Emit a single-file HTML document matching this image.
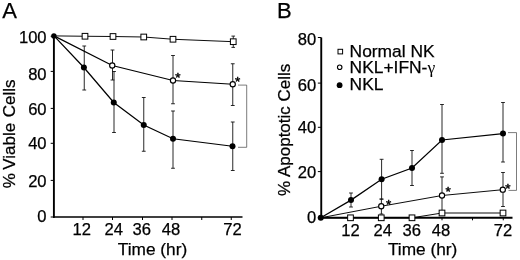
<!DOCTYPE html>
<html><head><meta charset="utf-8"><title>Figure</title>
<style>
html,body{margin:0;padding:0;background:#fff}
svg{display:block}
text{font-family:"Liberation Sans",sans-serif;fill:#000;stroke:#000;stroke-width:0.25}
.t{font-size:16.6px}
.p{font-size:22px}
.ax{stroke:#000;stroke-width:1.9;fill:none}
.tk{stroke:#000;stroke-width:1;fill:none}
.ln{stroke:#000;stroke-width:1.25;fill:none}
.ln2{stroke:#000;stroke-width:0.95;fill:none}
.ln3{stroke:#000;stroke-width:0.95;fill:none}
.eb{stroke:#111;stroke-width:0.9;fill:none}
.br{stroke:#444;stroke-width:0.7;fill:none}
.fc{fill:#000;stroke:none}
.oc{fill:#fff;stroke:#000;stroke-width:1.15}
.sq{fill:#fff;stroke:#000;stroke-width:1}
.as{font-size:13.5px;stroke-width:0.45}
</style></head><body>
<svg width="520" height="260" viewBox="0 0 520 260">
<rect width="520" height="260" fill="#fff"/>
<text class="p" x="2.3" y="17.6" text-anchor="start">A</text>
<path class="ax" d="M53.9 36V217.8"/>
<path class="ax" style="stroke-width:1.6" d="M53 217H242.5"/>
<path class="tk" d="M50.7 36.25H53.9"/>
<text class="t" x="46.6" y="43.2" text-anchor="end">100</text>
<path class="tk" d="M50.7 71.4H53.9"/>
<text class="t" x="46.6" y="79.9" text-anchor="end">80</text>
<path class="tk" d="M50.7 108.4H53.9"/>
<text class="t" x="46.6" y="115.4" text-anchor="end">60</text>
<path class="tk" d="M50.7 143.3H53.9"/>
<text class="t" x="46.6" y="149.2" text-anchor="end">40</text>
<path class="tk" d="M50.7 180.4H53.9"/>
<text class="t" x="46.6" y="187" text-anchor="end">20</text>
<path class="tk" d="M50.7 217H53.9"/>
<text class="t" x="46.6" y="222.2" text-anchor="end">0</text>
<path class="tk" d="M83 217V220"/>
<path class="tk" d="M112.5 217V220"/>
<path class="tk" d="M142.5 217V220"/>
<path class="tk" d="M172 217V220"/>
<path class="tk" d="M201.75 217V220"/>
<path class="tk" d="M231.25 217V220"/>
<text class="t" x="81.7" y="234.9" text-anchor="middle">12</text>
<text class="t" x="113.7" y="234.9" text-anchor="middle">24</text>
<text class="t" x="141.8" y="234.9" text-anchor="middle">36</text>
<text class="t" x="171" y="234.9" text-anchor="middle">48</text>
<text class="t" x="232.5" y="234.9" text-anchor="middle">72</text>
<text class="t" x="152.5" y="254.5" text-anchor="middle" style="font-size:17.3px">Time (hr)</text>
<text class="t" x="15.4" y="188.3" text-anchor="start" style="font-size:17px" transform="rotate(-90 15.4 188.3)">%<tspan dx="-1.3"> Viable</tspan><tspan dx="0.9"> Cells</tspan></text>
<path class="eb" d="M84.25 46V90M82.35 46H86.15M82.35 90H86.15"/>
<path class="eb" d="M114 71.5V132.5M112.1 71.5H115.9M112.1 132.5H115.9"/>
<path class="eb" d="M143.75 97.5V151.25M141.85 97.5H145.65M141.85 151.25H145.65"/>
<path class="eb" d="M173 111V168.25M171.1 111H174.9M171.1 168.25H174.9"/>
<path class="eb" d="M232.75 122V170.5M230.85 122H234.65M230.85 170.5H234.65"/>
<path class="eb" d="M112.5 50V80M110.6 50H114.4M110.6 80H114.4"/>
<path class="eb" d="M173 55.5V103.75M171.1 55.5H174.9M171.1 103.75H174.9"/>
<path class="eb" d="M232.75 63.75V105.5M230.85 63.75H234.65M230.85 105.5H234.65"/>
<path class="eb" d="M233.25 36.1V47.4M231.45 36.1H235.05M231.45 47.4H235.05"/>
<polyline class="ln2" points="54,35.9 85,36.25 113,36.5 143.75,37 173,39.25 233.25,41.7"/>
<polyline class="ln" points="54,35.9 112.25,65.5 173,80.5 232.75,84.25"/>
<polyline class="ln" points="54,35.9 83.9,67.5 113.75,102.5 143.75,125 173,138.75 232.5,146.25"/>
<rect class="sq" x="82.15" y="33.4" width="5.7" height="5.7"/>
<rect class="sq" x="110.15" y="33.65" width="5.7" height="5.7"/>
<rect class="sq" x="140.9" y="34.15" width="5.7" height="5.7"/>
<rect class="sq" x="170.15" y="36.4" width="5.7" height="5.7"/>
<rect class="sq" x="230.4" y="38.85" width="5.7" height="5.7"/>
<circle class="oc" cx="112.25" cy="65.5" r="2.6"/>
<circle class="oc" cx="173" cy="80.5" r="2.6"/>
<circle class="oc" cx="232.75" cy="84.25" r="2.6"/>
<circle class="fc" cx="53.9" cy="35.9" r="2.7"/>
<circle class="fc" cx="83.9" cy="67.5" r="3"/>
<circle class="fc" cx="113.75" cy="102.5" r="3"/>
<circle class="fc" cx="143.75" cy="125" r="3"/>
<circle class="fc" cx="173" cy="138.75" r="3"/>
<circle class="fc" cx="232.5" cy="146.25" r="3"/>
<path class="br" d="M238 85.1H246.7V147.3H238"/>
<text class="as" x="177.9" y="81.8" text-anchor="middle">*</text>
<text class="as" x="237.6" y="85.7" text-anchor="middle">*</text>
<text class="p" x="277" y="18.2" text-anchor="start">B</text>
<path class="ax" d="M321.25 37.5V217.8H512.5"/>
<path class="tk" d="M317.85 37.5H321.25"/>
<text class="t" x="316.2" y="44.7" text-anchor="end">80</text>
<path class="tk" d="M317.85 83.1H321.25"/>
<text class="t" x="316.2" y="91.2" text-anchor="end">60</text>
<path class="tk" d="M317.85 127.3H321.25"/>
<text class="t" x="316.2" y="133.4" text-anchor="end">40</text>
<path class="tk" d="M317.85 171.6H321.25"/>
<text class="t" x="316.2" y="177.5" text-anchor="end">20</text>
<path class="tk" d="M317.85 217.8H321.25"/>
<text class="t" x="316.2" y="223.2" text-anchor="end">0</text>
<path class="tk" d="M351 217.8V220.3"/>
<path class="tk" d="M381.5 217.8V220.3"/>
<path class="tk" d="M412 217.8V220.3"/>
<path class="tk" d="M442 217.8V220.3"/>
<path class="tk" d="M472.5 217.8V220.3"/>
<path class="tk" d="M503.25 217.8V220.3"/>
<text class="t" x="350.5" y="235.8" text-anchor="middle">12</text>
<text class="t" x="382.7" y="235.8" text-anchor="middle">24</text>
<text class="t" x="411.7" y="235.8" text-anchor="middle">36</text>
<text class="t" x="441" y="235.8" text-anchor="middle">48</text>
<text class="t" x="503" y="235.8" text-anchor="middle">72</text>
<text class="t" x="422.6" y="254.5" text-anchor="middle" style="font-size:17.3px">Time (hr)</text>
<text class="t" x="289.7" y="129.8" text-anchor="middle" style="font-size:17px" transform="rotate(-90 289.7 129.8)">% Apoptotic Cells</text>
<rect class="sq" x="338" y="49.3" width="4.6" height="4.6"/>
<circle class="oc" cx="339.7" cy="67.2" r="2.25" style="stroke-width:1.1"/>
<circle class="fc" cx="339.6" cy="85.2" r="2.9"/>
<text class="t" x="349.6" y="56.9" text-anchor="start" style="font-size:17.4px">Normal NK</text>
<text class="t" x="349.6" y="73.15" text-anchor="start" style="font-size:17.4px">NKL+IFN-<tspan style="font-family:'Liberation Serif',serif;font-size:17.5px;stroke-width:0">γ</tspan></text>
<text class="t" x="349.6" y="90" text-anchor="start" style="font-size:17.4px">NKL</text>
<path class="eb" d="M351 193V207M349.1 193H352.9M349.1 207H352.9"/>
<path class="eb" d="M381.6 159.3V199.2M379.7 159.3H383.5M379.7 199.2H383.5"/>
<path class="eb" d="M412 150.5V185.5M410.1 150.5H413.9M410.1 185.5H413.9"/>
<path class="eb" d="M442 104.5V173.3M440.1 104.5H443.9M440.1 173.3H443.9"/>
<path class="eb" d="M503 102.5V162M501.1 102.5H504.9M501.1 162H504.9"/>
<path class="eb" d="M381.4 199V214M379.5 199H383.3M379.5 214H383.3"/>
<path class="eb" d="M442 176.9V213M440.1 176.9H443.9M440.1 213H443.9"/>
<path class="eb" d="M503 172.5V206.5M501.1 172.5H504.9M501.1 206.5H504.9"/>
<polyline class="ln2" points="320.75,217.8 350.5,217.8 381.25,217.8 412,217.8 442,213 503,213"/>
<polyline class="ln3" points="320.75,217.8 381.25,206.25 442,195.5 502.8,189.7"/>
<polyline class="ln" points="320.75,217.8 351,200.1 381.6,179.25 412,168 442,140 503,133.6"/>
<rect class="sq" x="347.65" y="214.95" width="5.7" height="5.7"/>
<rect class="sq" x="378.4" y="214.95" width="5.7" height="5.7"/>
<rect class="sq" x="409.15" y="214.95" width="5.7" height="5.7"/>
<rect class="sq" x="439.15" y="210.15" width="5.7" height="5.7"/>
<rect class="sq" x="500.15" y="210.15" width="5.7" height="5.7"/>
<circle class="oc" cx="381.25" cy="206.25" r="2.6"/>
<circle class="oc" cx="442" cy="195.5" r="2.6"/>
<circle class="oc" cx="502.8" cy="189.7" r="2.6"/>
<circle class="fc" cx="320.75" cy="217.8" r="3"/>
<circle class="fc" cx="351" cy="200.1" r="3"/>
<circle class="fc" cx="381.6" cy="179.25" r="3"/>
<circle class="fc" cx="412" cy="168" r="3"/>
<circle class="fc" cx="442" cy="140" r="3"/>
<circle class="fc" cx="503" cy="133.6" r="3"/>
<path class="br" d="M508 132.6H516.5V190.4H508.5"/>
<text class="as" x="388.75" y="209" text-anchor="middle">*</text>
<text class="as" x="448.2" y="195.6" text-anchor="middle">*</text>
<text class="as" x="508" y="192.6" text-anchor="middle">*</text>
</svg>
</body></html>
